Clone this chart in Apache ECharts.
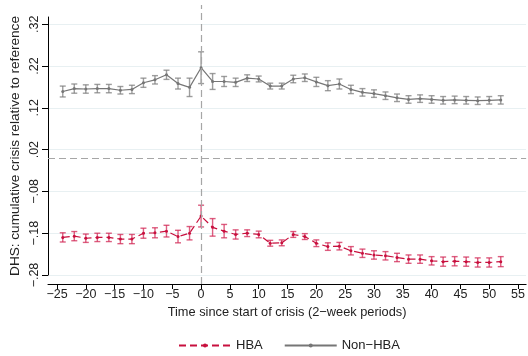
<!DOCTYPE html>
<html>
<head>
<meta charset="utf-8">
<script src="https://cdn.jsdelivr.net/npm/echarts@6/dist/echarts.min.js"></script>
<style>
html, body { margin: 0; padding: 0; background: #fff; }
#chart { width: 528px; height: 356px; }
</style>
</head>
<body>
<div id="chart"></div>
<script>
// periods (2-week), relative to start of crisis
var periods = [-24, -22, -20, -18, -16, -14, -12, -10, -8, -6, -4, -2, 0, 2, 4, 6, 8, 10, 12, 14,
    16, 18, 20, 22, 24, 26, 28, 30, 32, 34, 36, 38, 40, 42, 44, 46, 48, 50, 52];

var hbaMean = [-0.190, -0.187, -0.192, -0.190, -0.190, -0.194, -0.194, -0.180, -0.179, -0.175, -0.188, -0.180,
    -0.139, -0.166, -0.175, -0.183, -0.180, -0.183, -0.204, -0.203, -0.183, -0.188, -0.204, -0.212, -0.211,
    -0.222, -0.228, -0.232, -0.234, -0.238, -0.242, -0.242, -0.246, -0.248, -0.247, -0.248, -0.250, -0.250, -0.248];
var hbaErr = [0.011, 0.011, 0.010, 0.010, 0.010, 0.011, 0.011, 0.012, 0.012, 0.014, 0.015, 0.016,
    0.026, 0.021, 0.016, 0.011, 0.008, 0.008, 0.007, 0.007, 0.007, 0.007, 0.008, 0.009, 0.009,
    0.010, 0.010, 0.010, 0.010, 0.010, 0.010, 0.010, 0.010, 0.011, 0.011, 0.011, 0.011, 0.011, 0.012];

var nonHbaMean = [0.159, 0.166, 0.165, 0.166, 0.166, 0.162, 0.164, 0.180, 0.187, 0.199, 0.178, 0.169,
    0.216, 0.183, 0.183, 0.181, 0.191, 0.189, 0.172, 0.172, 0.189, 0.192, 0.182, 0.173, 0.177,
    0.164, 0.157, 0.154, 0.149, 0.144, 0.140, 0.142, 0.140, 0.138, 0.139, 0.138, 0.137, 0.138, 0.139];
var nonHbaErr = [0.013, 0.011, 0.010, 0.010, 0.010, 0.009, 0.010, 0.011, 0.010, 0.011, 0.013, 0.022,
    0.038, 0.019, 0.012, 0.010, 0.008, 0.007, 0.007, 0.007, 0.009, 0.009, 0.011, 0.012, 0.012,
    0.010, 0.009, 0.009, 0.009, 0.009, 0.009, 0.009, 0.009, 0.009, 0.009, 0.009, 0.009, 0.009, 0.010];

var xTicks = [-25, -20, -15, -10, -5, 0, 5, 10, 15, 20, 25, 30, 35, 40, 45, 50, 55];
var yTicks = [-0.28, -0.18, -0.08, 0.02, 0.12, 0.22, 0.32];

var RED = '#c8103e', RED_BAR = 'rgba(210,40,85,0.75)';
var GRAY = '#767676', GRAY_BAR = 'rgba(125,125,125,0.75)';
var REF = '#a6a6a6';
var FONT = 'Liberation Sans';

function pairs(xs, ys) {
    return xs.map(function (x, i) { return [x, ys[i]]; });
}
function errData(xs, m, e) {
    return xs.map(function (x, i) { return [x, m[i] - e[i], m[i] + e[i]]; });
}
function errSeries(data, color) {
    return {
        type: 'custom',
        xAxisIndex: 0, yAxisIndex: 0,
        silent: true,
        z: 1,
        data: data,
        renderItem: function (params, api) {
            var lo = api.coord([api.value(0), api.value(1)]);
            var hi = api.coord([api.value(0), api.value(2)]);
            var w = 3;
            var st = { stroke: color, lineWidth: 1.4 };
            return {
                type: 'group',
                children: [
                    { type: 'line', shape: { x1: lo[0], y1: lo[1], x2: hi[0], y2: hi[1] }, style: st },
                    { type: 'line', shape: { x1: lo[0] - w, y1: lo[1], x2: lo[0] + w, y2: lo[1] }, style: st },
                    { type: 'line', shape: { x1: hi[0] - w, y1: hi[1], x2: hi[0] + w, y2: hi[1] }, style: st }
                ]
            };
        }
    };
}

function fmtY(v) {
    var s = Math.abs(v).toFixed(2).replace(/^0/, '');
    return (v < 0 ? '\u2212' : '') + s;
}
function fmtX(v) {
    return (v < 0 ? '\u2212' : '') + Math.abs(v);
}

var refStyle = { color: REF, width: 1.2, type: [7, 4] };

var chart = echarts.init(document.getElementById('chart'));
var option = {
    backgroundColor: '#fff',
    animation: false,
    textStyle: { fontFamily: FONT, color: '#222' },
    grid: [
        { left: 48, right: 1, top: 5, bottom: 72 },
        { left: 48, right: 1, top: 17, bottom: 81 }
    ],
    legend: {
        left: 173,
        top: 334,
        itemWidth: 52,
        itemHeight: 5,
        itemGap: 21,
        textStyle: { fontFamily: FONT, fontSize: 13, color: '#222' },
        data: ['HBA', 'Non\u2212HBA']
    },
    xAxis: [{
        gridIndex: 0,
        type: 'value',
        min: -26.56,
        max: 56.4,
        name: 'Time since start of crisis (2\u2212week periods)',
        nameLocation: 'middle',
        nameGap: 22,
        nameTextStyle: { fontFamily: FONT, fontSize: 12.8, color: '#222' },
        axisLine: { onZero: false, lineStyle: { color: '#000', width: 1 } },
        axisTick: { length: 5, lineStyle: { color: '#000' }, customValues: xTicks },
        axisLabel: { fontSize: 12.5, color: '#222', margin: 4, customValues: xTicks, formatter: fmtX },
        splitLine: { show: false }
    }, {
        gridIndex: 1,
        type: 'value',
        min: -26.56,
        max: 56.4,
        axisLine: { show: false, onZero: false },
        axisTick: { show: false },
        axisLabel: { show: false },
        splitLine: { show: false }
    }],
    yAxis: [{
        gridIndex: 0,
        type: 'value',
        min: -0.3015,
        max: 0.366,
        axisLine: { show: false, onZero: false },
        axisTick: { show: true, length: 6, lineStyle: { color: '#000' }, customValues: yTicks },
        axisLabel: { fontSize: 12.5, color: '#222', rotate: 90, margin: 7, customValues: yTicks, formatter: fmtY },
        splitLine: { show: true, lineStyle: { color: '#e8f0f2', width: 1 } }
    }, {
        gridIndex: 1,
        type: 'value',
        min: -0.28,
        max: 0.3375,
        name: 'DHS: cumulative crisis relative to reference',
        nameLocation: 'middle',
        nameGap: 26,
        nameTextStyle: { fontFamily: FONT, fontSize: 13.6, color: '#222' },
        axisLine: { show: true, onZero: false, lineStyle: { color: '#000', width: 1 } },
        axisTick: { show: false },
        axisLabel: { show: false },
        splitLine: { show: false }
    }],
    series: [
        {
            name: 'refLines',
            type: 'line',
            xAxisIndex: 0, yAxisIndex: 0,
            data: [],
            z: 0,
            markLine: {
                silent: true,
                symbol: 'none',
                label: { show: false },
                lineStyle: refStyle,
                data: [
                    { xAxis: 0, lineStyle: refStyle },
                    { yAxis: 0, lineStyle: refStyle }
                ]
            }
        },
        errSeries(errData(periods, hbaMean, hbaErr), RED_BAR),
        errSeries(errData(periods, nonHbaMean, nonHbaErr), GRAY_BAR),
        {
            name: 'HBA',
            type: 'line',
            xAxisIndex: 0, yAxisIndex: 0,
            data: pairs(periods, hbaMean),
            symbol: 'circle',
            symbolSize: 3,
            z: 3,
            itemStyle: { color: RED },
            lineStyle: { color: RED, width: 1.2, type: [7, 4] }
        },
        {
            name: 'Non\u2212HBA',
            type: 'line',
            xAxisIndex: 0, yAxisIndex: 0,
            data: pairs(periods, nonHbaMean),
            symbol: 'circle',
            symbolSize: 3,
            z: 3,
            itemStyle: { color: GRAY },
            lineStyle: { color: GRAY, width: 1.2 }
        }
    ]
};
chart.setOption(option);
window.addEventListener('resize', function () { chart.resize(); });
</script>
</body>
</html>
